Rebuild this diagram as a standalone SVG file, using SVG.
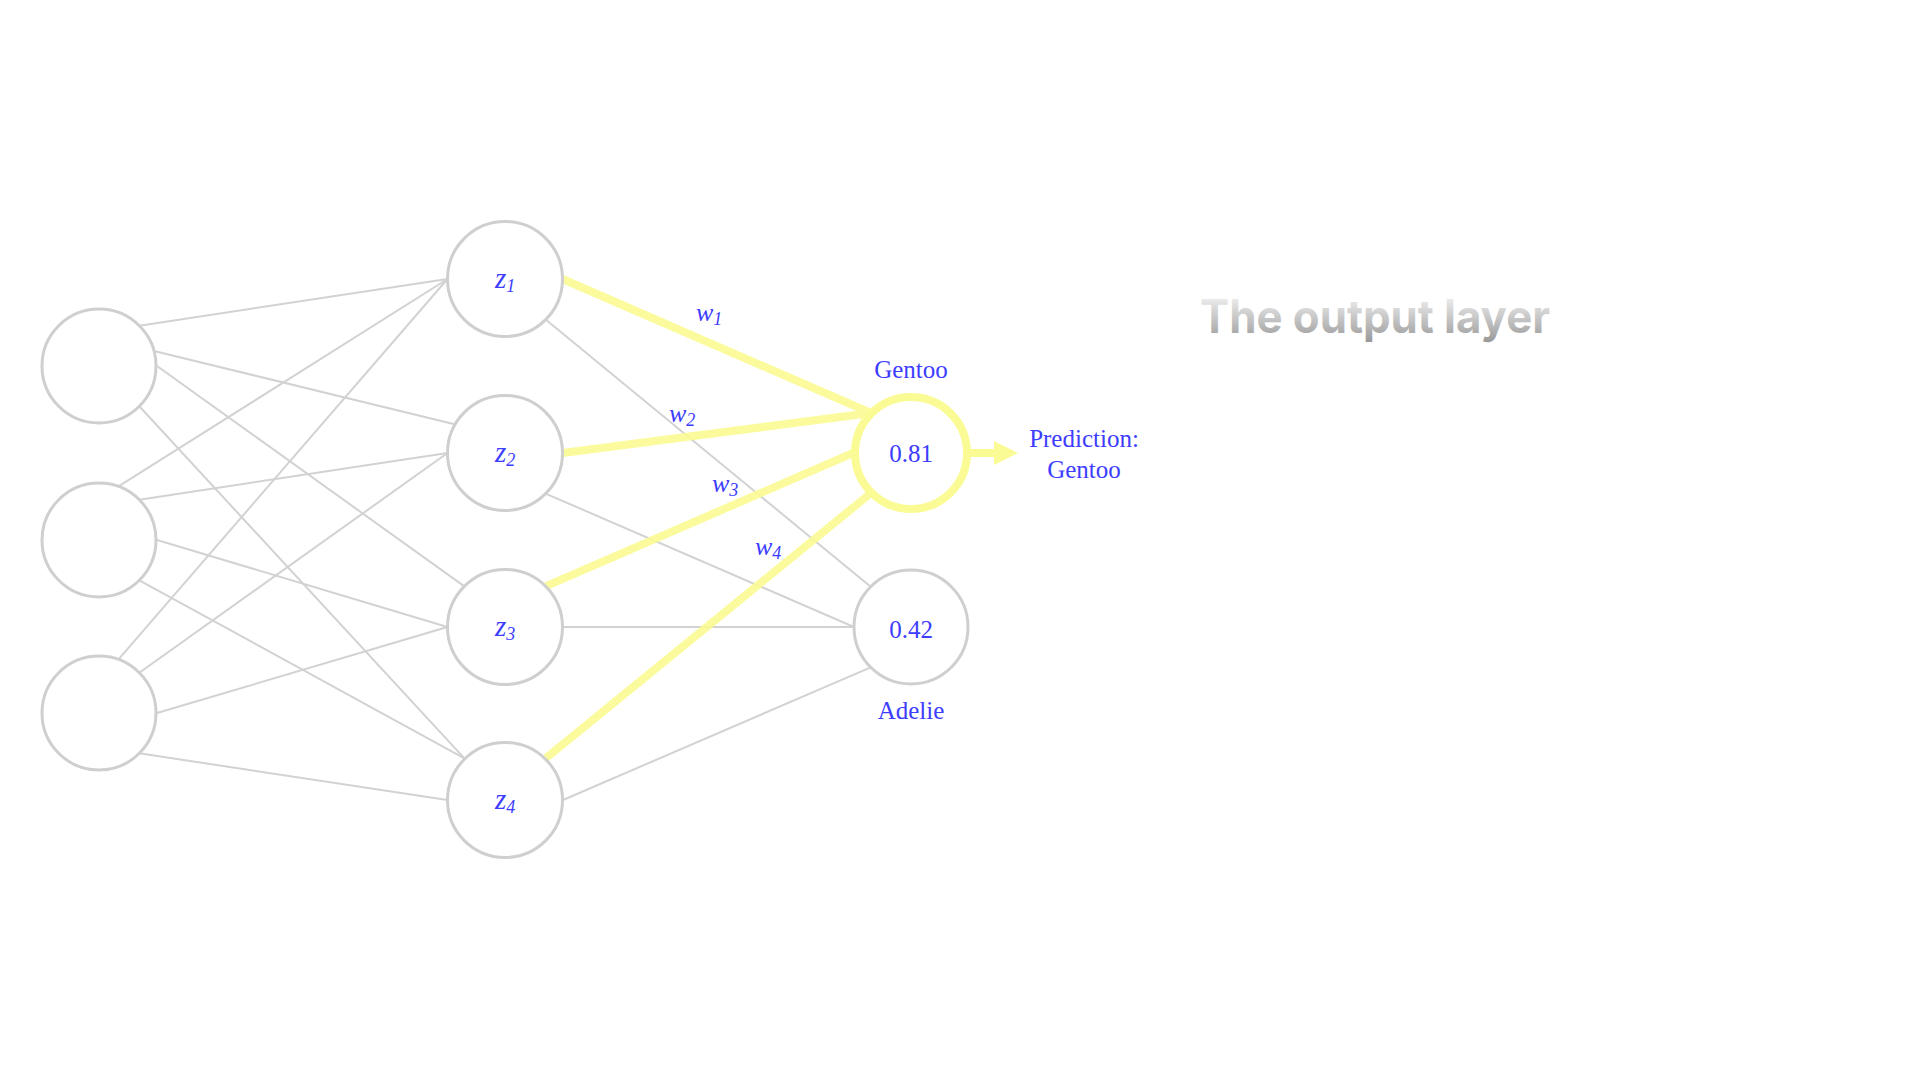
<svg xmlns="http://www.w3.org/2000/svg" width="1920" height="1080" viewBox="0 0 1920 1080">
<style>
.node{fill:#fff;stroke:#cfcfcf;stroke-width:3}
.out{fill:#fff;stroke:#fbfb96;stroke-width:8}
.gl{stroke:#d2d2d2;stroke-width:2;fill:none}
.yl{stroke:#fbfb96;stroke-width:8;fill:none;stroke-linecap:butt}
.lbl{font-family:"Liberation Serif","Times New Roman",serif;font-size:25px;fill:#3d3dff;text-anchor:middle}
.z{font-family:"Liberation Serif","Times New Roman",serif;font-style:italic;font-size:29px;fill:#3d3dff}
.w{font-family:"Liberation Serif","Times New Roman",serif;font-style:italic;font-size:26px;fill:#3d3dff}
.sub{font-size:18px}
.title{font-family:Inter,"Liberation Sans",sans-serif;font-weight:700;font-size:46px}
</style>
<defs>
<linearGradient id="tg" gradientUnits="userSpaceOnUse" x1="0" y1="298" x2="0" y2="344">
<stop offset="0" stop-color="#ececec"/>
<stop offset="1" stop-color="#959595"/>
</linearGradient>
</defs>
<rect width="1920" height="1080" fill="#fff"/>
<g id="connectors">
<!-- input 1 -->
<line class="gl" x1="139.3" y1="325.7" x2="447.5" y2="279"/>
<line class="gl" x1="154" y1="351" x2="455.6" y2="424.5"/>
<line class="gl" x1="157" y1="366" x2="464.4" y2="586.4"/>
<line class="gl" x1="139.3" y1="406.3" x2="464.4" y2="758.4"/>
<!-- input 2 -->
<line class="gl" x1="118.5" y1="486.4" x2="447.5" y2="279"/>
<line class="gl" x1="139.3" y1="499.7" x2="447.5" y2="453"/>
<line class="gl" x1="157" y1="540" x2="447.5" y2="627"/>
<line class="gl" x1="139.3" y1="580.3" x2="464.4" y2="758.4"/>
<!-- input 3 -->
<line class="gl" x1="118.5" y1="659.4" x2="447.5" y2="279"/>
<line class="gl" x1="139.3" y1="672.7" x2="447.5" y2="453"/>
<line class="gl" x1="157" y1="713" x2="447.5" y2="627"/>
<line class="gl" x1="139.3" y1="753.3" x2="447.5" y2="800"/>
<!-- hidden to Adelie -->
<line class="gl" x1="545.6" y1="319.6" x2="870.7" y2="586.7"/>
<line class="gl" x1="545.6" y1="493.6" x2="854" y2="627"/>
<line class="gl" x1="563" y1="627" x2="854" y2="627"/>
<line class="gl" x1="563" y1="800" x2="870.7" y2="667.3"/>
<!-- hidden to Gentoo (highlighted) -->
<g opacity="0.92">
<line class="yl" x1="562.5" y1="279" x2="871" y2="413"/>
<line class="yl" x1="562.5" y1="453" x2="871" y2="413"/>
<line class="yl" x1="545.6" y1="586.4" x2="853" y2="453"/>
<line class="yl" x1="545.6" y1="758.4" x2="871" y2="493"/>
</g>
<!-- prediction arrow -->
<line class="yl" x1="968" y1="453" x2="996" y2="453"/>
<polygon points="994,441 1018,453 994,465" fill="#fbfb96"/>
</g>
<g id="input1"><circle class="node" cx="99" cy="366" r="57"/></g>
<g id="input2"><circle class="node" cx="99" cy="540" r="57"/></g>
<g id="input3"><circle class="node" cx="99" cy="713" r="57"/></g>
<g id="z1"><circle class="node" cx="505" cy="279" r="57.5"/><text class="z" x="495" y="288">z<tspan class="sub" dy="4">1</tspan></text></g>
<g id="z2"><circle class="node" cx="505" cy="453" r="57.5"/><text class="z" x="495" y="462">z<tspan class="sub" dy="4">2</tspan></text></g>
<g id="z3"><circle class="node" cx="505" cy="627" r="57.5"/><text class="z" x="495" y="636">z<tspan class="sub" dy="4">3</tspan></text></g>
<g id="z4"><circle class="node" cx="505" cy="800" r="57.5"/><text class="z" x="495" y="809">z<tspan class="sub" dy="4">4</tspan></text></g>
<g id="gentoo"><circle class="out" cx="911" cy="453" r="56"/><text class="lbl" x="911" y="462">0.81</text><text class="lbl" x="911" y="378">Gentoo</text></g>
<g id="adelie"><circle class="node" cx="911" cy="627" r="57"/><text class="lbl" x="911" y="638">0.42</text><text class="lbl" x="911" y="719">Adelie</text></g>
<g id="weights">
<text class="w" x="696" y="321">w<tspan class="sub" dy="4">1</tspan></text>
<text class="w" x="669" y="422">w<tspan class="sub" dy="4">2</tspan></text>
<text class="w" x="712" y="492">w<tspan class="sub" dy="4">3</tspan></text>
<text class="w" x="755" y="555">w<tspan class="sub" dy="4">4</tspan></text>
</g>
<g id="prediction"><text class="lbl" x="1084" y="447">Prediction:</text><text class="lbl" x="1084" y="478">Gentoo</text></g>
<text id="title" class="title" x="1200" y="333" fill="url(#tg)" textLength="350" lengthAdjust="spacingAndGlyphs">The output layer</text>
</svg>
